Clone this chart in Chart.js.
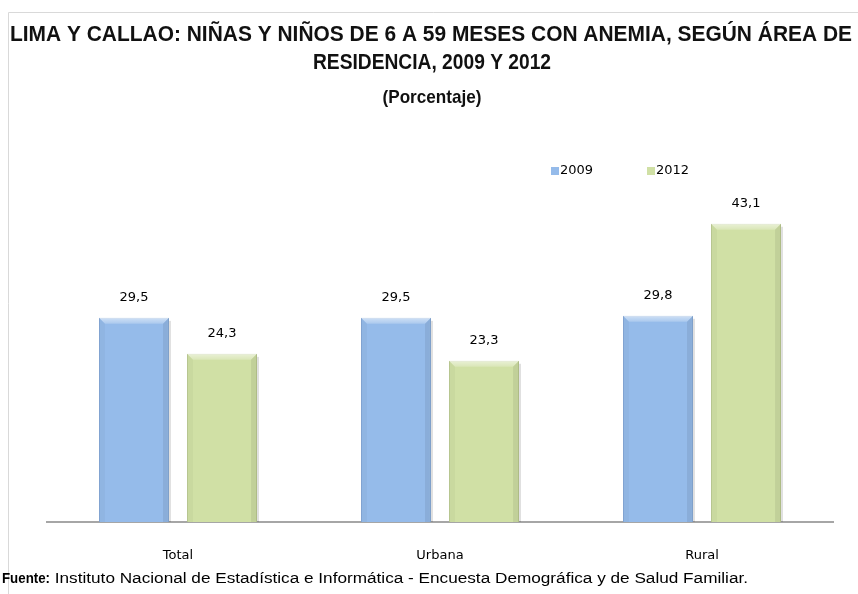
<!doctype HTML>
<html lang="es">
<head>
    <meta charset=utf-8>
    <title>Anemia Lima y Callao</title>
    <style type="text/css">
        * {
            padding: 0;
            margin: 0;
        }

        body {
            background: #fff;
        }

        div {
            width: 858px;
            height: 594px;
        }
    </style>
    <script src="https://cdn.jsdelivr.net/npm/chart.js"></script>
</head>
<body>
    <div>
        <canvas id="anemiaChart" width="858" height="594"></canvas>
    </div>

    <script type="text/javascript">
        const categories = ['Total', 'Urbana', 'Rural'];
        const years = ['2009', '2012'];
        const values2009 = [29.5, 29.5, 29.8];
        const values2012 = [24.3, 23.3, 43.1];

        const titleLines = [
            'LIMA Y CALLAO: NIÑAS Y NIÑOS DE 6 A 59 MESES CON ANEMIA, SEGÚN ÁREA DE',
            'RESIDENCIA, 2009 Y 2012'
        ];
        const subtitle = '(Porcentaje)';
        const sourceLabel = 'Fuente:';
        const sourceText = ' Instituto Nacional de Estadística e Informática - Encuesta Demográfica y de Salud Familiar.';

        const fills = ['#95bbea', '#d0e0a5'];
        const edges = ['#86a9d8', '#bccb92'];

        const fmt = v => v.toFixed(1).replace('.', ',');

        // draw text fitted horizontally to a given width
        function fitText(ctx, text, x, y, width, align) {
            const w = ctx.measureText(text).width;
            const k = width / w;
            ctx.save();
            ctx.translate(x, y);
            ctx.scale(k, 1);
            ctx.textAlign = align;
            ctx.fillText(text, 0, 0);
            ctx.restore();
            return width;
        }

        const decor = {
            id: 'decor',
            beforeDraw(chart) {
                const ctx = chart.ctx;
                ctx.save();
                ctx.strokeStyle = '#d9d9d9';
                ctx.lineWidth = 1;
                ctx.beginPath();
                ctx.moveTo(8.5, 594);
                ctx.lineTo(8.5, 12.5);
                ctx.lineTo(858, 12.5);
                ctx.stroke();

                ctx.fillStyle = '#111';
                ctx.textBaseline = 'middle';
                ctx.font = 'bold 22px "Liberation Sans"';
                fitText(ctx, titleLines[0], 431, 35, 842, 'center');
                fitText(ctx, titleLines[1], 432, 63, 238, 'center');
                ctx.font = 'bold 19px "Liberation Sans"';
                fitText(ctx, subtitle, 432, 98, 99, 'center');

                // legend
                ctx.font = '13px "DejaVu Sans"';
                const lx = [551, 647];
                chart.data.datasets.forEach((ds, i) => {
                    ctx.fillStyle = ds.backgroundColor;
                    ctx.fillRect(lx[i], 167, 8, 8);
                    ctx.fillStyle = '#000';
                    ctx.textAlign = 'left';
                    ctx.fillText(ds.label, lx[i] + 9, 171);
                });

                // source
                ctx.fillStyle = '#000';
                ctx.font = 'bold 14px "Liberation Sans"';
                const w = fitText(ctx, sourceLabel, 2, 579, 48, 'left');
                ctx.font = '14px "Liberation Sans"';
                fitText(ctx, sourceText, 2 + w, 579, 698, 'left');
                ctx.restore();
            },
            afterDatasetsDraw(chart) {
                const ctx = chart.ctx;
                ctx.save();
                chart.data.datasets.forEach((ds, i) => {
                    chart.getDatasetMeta(i).data.forEach((bar, j) => {
                        const l = bar.x - bar.width / 2;
                        const r = bar.x + bar.width / 2;
                        const t = bar.y;
                        const b = bar.base;
                        const d = 6;
                        const g = ctx.createLinearGradient(0, t, 0, t + d);
                        g.addColorStop(0, 'rgba(255,255,255,0.55)');
                        g.addColorStop(1, 'rgba(255,255,255,0.2)');
                        ctx.fillStyle = g;
                        ctx.beginPath();
                        ctx.moveTo(l, t);
                        ctx.lineTo(r, t);
                        ctx.lineTo(r - d, t + d);
                        ctx.lineTo(l + d, t + d);
                        ctx.closePath();
                        ctx.fill();
                        ctx.fillStyle = 'rgba(0,0,0,0.03)';
                        ctx.beginPath();
                        ctx.moveTo(l, t);
                        ctx.lineTo(l + d, t + d);
                        ctx.lineTo(l + d, b);
                        ctx.lineTo(l, b);
                        ctx.closePath();
                        ctx.fill();
                        ctx.fillStyle = 'rgba(0,0,0,0.07)';
                        ctx.beginPath();
                        ctx.moveTo(r, t);
                        ctx.lineTo(r - d, t + d);
                        ctx.lineTo(r - d, b);
                        ctx.lineTo(r, b);
                        ctx.closePath();
                        ctx.fill();
                        // soft shadow to the right
                        ctx.fillStyle = 'rgba(0,0,0,0.12)';
                        ctx.fillRect(r, t + 3, 2, b - t - 3);

                        ctx.fillStyle = '#000';
                        ctx.font = '13px "DejaVu Sans"';
                        ctx.textAlign = 'center';
                        ctx.textBaseline = 'middle';
                        ctx.fillText(fmt(ds.data[j]), bar.x, t - 20);
                    });
                });
                ctx.restore();
            }
        };

        const data = {
            labels: categories,
            datasets: [{
                label: years[0],
                data: values2009,
                backgroundColor: fills[0],
                borderColor: edges[0],
                borderWidth: 1
            }, {
                label: years[1],
                data: values2012,
                backgroundColor: fills[1],
                borderColor: edges[1],
                borderWidth: 1
            }]
        };

        const config = {
            type: 'bar',
            data,
            options: {
                responsive: false,
                animation: false,
                layout: {
                    padding: { top: 176, left: 47, right: 25, bottom: 32 }
                },
                categoryPercentage: 0.672,
                barPercentage: 0.795,
                plugins: {
                    legend: { display: false },
                    tooltip: { enabled: false }
                },
                scales: {
                    x: {
                        grid: { display: false },
                        border: { color: '#a6a6a6', width: 2 },
                        ticks: {
                            color: '#000',
                            font: { family: 'DejaVu Sans', size: 13 },
                            padding: 18
                        },
                        afterFit(scale) { scale.height = 40; }
                    },
                    y: {
                        display: false,
                        min: 0,
                        max: 50
                    }
                }
            },
            plugins: [decor]
        };

        const chart = new Chart(document.getElementById('anemiaChart'), config);
    </script>
</body>
</html>
